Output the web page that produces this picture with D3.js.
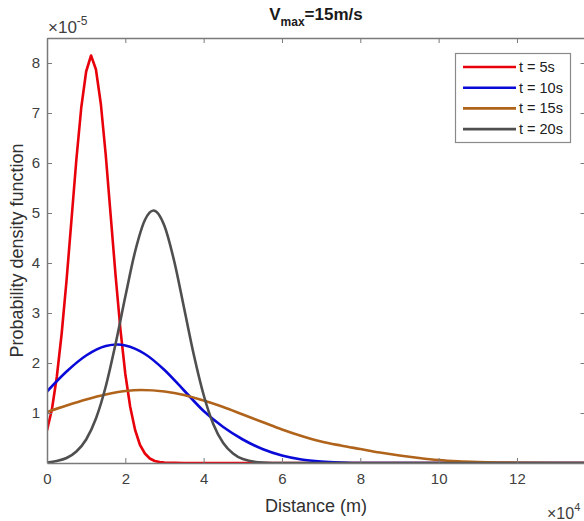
<!DOCTYPE html>
<html lang="en">
<head>
<meta charset="UTF-8">
<title>Vmax = 15 m/s</title>
<script src="https://d3js.org/d3.v7.min.js"></script>
<style>
    body { margin: 0; background: #fff; }
    svg { font-family: "Liberation Sans", Arial, sans-serif; }
    .tick-label { font-size: 15px; fill: #404040; }
    .axis-label { font-size: 18px; fill: #303030; }
    .legend-text { font-size: 14.5px; fill: #202020; }
</style>
</head>
<body>
<div id="chart"></div>
<script>
// distance in units of 1e4 m, density in units of 1e-5
const xTicks = [0, 2, 4, 6, 8, 10, 12];
const yTicks = [1, 2, 3, 4, 5, 6, 7, 8];
const seriesNames = ["t = 5s", "t = 10s", "t = 15s", "t = 20s"];
const seriesColors = ["#e8000b", "#0a0ad8", "#b0631a", "#4f4f4f"];

const dist5 = [0, 0.125, 0.25, 0.375, 0.5, 0.625, 0.75, 0.875, 1.0, 1.125, 1.25, 1.375, 1.5, 1.625,
    1.75, 1.875, 2.0, 2.125, 2.25, 2.375, 2.5, 2.625, 2.75, 2.875, 3.0, 3.5, 5, 8, 14];
const pdf5 = [0.65, 1.07, 1.72, 2.59, 3.66, 4.86, 6.07, 7.11, 7.83, 8.15, 7.87, 7.18, 6.16, 4.96,
    3.76, 2.67, 1.78, 1.12, 0.66, 0.36, 0.19, 0.09, 0.04, 0.02, 0.01, 0, 0, 0, 0];

const dist10 = [0, 0.5, 1.0, 1.5, 1.8, 2.0, 2.5, 3.0, 3.5, 4.0, 4.5, 5.0, 5.5, 6.0, 6.5, 7.0, 7.5, 8, 10, 14];
const pdf10 = [1.43, 1.83, 2.15, 2.34, 2.37, 2.35, 2.18, 1.86, 1.45, 1.04, 0.72, 0.47, 0.28, 0.15, 0.07, 0.03, 0.01, 0, 0, 0];

const dist15 = [0, 0.5, 1.0, 1.5, 2.0, 2.4, 3.0, 3.5, 4.0, 4.5, 5.0, 5.5, 6.0, 6.5, 7.0, 7.5, 8.0,
    8.5, 9.0, 9.5, 10.0, 10.5, 11, 11.5, 12, 13, 14];
const pdf15 = [1.02, 1.15, 1.27, 1.37, 1.44, 1.46, 1.43, 1.36, 1.25, 1.12, 0.97, 0.82, 0.67, 0.54, 0.43, 0.35, 0.28,
    0.21, 0.15, 0.10, 0.06, 0.035, 0.02, 0.01, 0.005, 0, 0];

const dist20 = [0, 0.25, 0.5, 0.75, 1.0, 1.25, 1.5, 1.75, 2.0, 2.25, 2.5, 2.72, 3.0, 3.25, 3.5, 3.75, 4.0,
    4.25, 4.5, 4.75, 5.0, 5.5, 6, 10, 14];
const pdf20 = [0.01, 0.04, 0.10, 0.23, 0.47, 0.89, 1.53, 2.38, 3.33, 4.23, 4.86, 5.05, 4.74, 4.03, 3.10, 2.16, 1.36,
    0.77, 0.40, 0.19, 0.08, 0.01, 0, 0, 0];

const seriesX = [dist5, dist10, dist15, dist20];
const seriesY = [pdf5, pdf10, pdf15, pdf20];

const W = 584, H = 521;
const plot = { left: 47, right: 585.5, top: 38, bottom: 463 };

const svg = d3.select("#chart").append("svg")
    .attr("width", W)
    .attr("height", H);

const x = d3.scaleLinear().domain([0, 13.75]).range([plot.left, plot.right]);
const y = d3.scaleLinear().domain([0, 8.5]).range([plot.bottom, plot.top]);

svg.append("defs").append("clipPath").attr("id", "clip")
    .append("rect")
    .attr("x", plot.left).attr("y", plot.top)
    .attr("width", plot.right - plot.left).attr("height", plot.bottom - plot.top);

// curves: t=5s is coarse (straight segments), the others are smooth
const curves = svg.append("g").attr("clip-path", "url(#clip)");
seriesX.forEach((xs, i) => {
    const pts = xs.map((v, j) => [v, seriesY[i][j]]);
    const line = d3.line()
        .x(d => x(d[0]))
        .y(d => y(d[1]))
        .curve(i === 0 ? d3.curveLinear : d3.curveMonotoneX);
    curves.append("path")
        .datum(pts)
        .attr("fill", "none")
        .attr("stroke", seriesColors[i])
        .attr("stroke-width", 2.6)
        .attr("stroke-linejoin", "round")
        .attr("d", line);
});

// axes (box with inward ticks)
const axisColor = "#7a7a7a";
const tickLen = 5;

svg.append("g")
    .attr("transform", `translate(0,${plot.bottom})`)
    .call(d3.axisBottom(x).tickValues(xTicks).tickSize(-tickLen).tickPadding(10).tickSizeOuter(0))
    .call(g => {
        g.select(".domain").attr("stroke", axisColor).attr("stroke-width", 1.5);
        g.selectAll(".tick line").attr("stroke", axisColor);
        g.selectAll(".tick text").attr("class", "tick-label").attr("font-size", null).attr("font-family", null);
    });

svg.append("g")
    .attr("transform", `translate(0,${plot.top})`)
    .call(d3.axisTop(x).tickValues(xTicks).tickSize(-tickLen).tickFormat("").tickSizeOuter(0))
    .call(g => {
        g.select(".domain").attr("stroke", axisColor).attr("stroke-width", 1.5);
        g.selectAll(".tick line").attr("stroke", axisColor);
    });

svg.append("g")
    .attr("transform", `translate(${plot.left},0)`)
    .call(d3.axisLeft(y).tickValues(yTicks).tickSize(-tickLen).tickPadding(7).tickSizeOuter(0))
    .call(g => {
        g.select(".domain").attr("stroke", axisColor).attr("stroke-width", 1.5);
        g.selectAll(".tick line").attr("stroke", axisColor);
        g.selectAll(".tick text").attr("class", "tick-label").attr("font-size", null).attr("font-family", null);
    });

svg.append("g")
    .attr("transform", `translate(${plot.right},0)`)
    .call(d3.axisRight(y).tickValues(yTicks).tickSize(-tickLen).tickFormat("").tickSizeOuter(0))
    .call(g => {
        g.select(".domain").attr("stroke", axisColor).attr("stroke-width", 1.5);
        g.selectAll(".tick line").attr("stroke", axisColor);
    });

// exponent labels
const expTop = svg.append("text").attr("class", "tick-label").style("font-size", "17px")
    .attr("x", plot.left + 1).attr("y", 33);
expTop.append("tspan").text("\u00d710");
expTop.append("tspan").attr("dy", -8).style("font-size", "12px").text("-5");

const expBottom = svg.append("text").attr("class", "tick-label").style("font-size", "16px")
    .attr("x", 547).attr("y", 519);
expBottom.append("tspan").text("\u00d710");
expBottom.append("tspan").attr("dy", -8).style("font-size", "11px").text("4");

// axis labels
svg.append("text")
    .attr("class", "axis-label")
    .attr("text-anchor", "middle")
    .attr("x", 316)
    .attr("y", 512)
    .text("Distance (m)");

svg.append("text")
    .attr("class", "axis-label")
    .attr("text-anchor", "middle")
    .attr("transform", `translate(23,${(plot.top + plot.bottom) / 2}) rotate(-90)`)
    .text("Probability density function");

// title
const title = svg.append("text")
    .attr("text-anchor", "middle")
    .attr("x", 316)
    .attr("y", 20)
    .attr("font-weight", "bold")
    .attr("font-size", 17)
    .attr("fill", "#1a1a1a");
title.append("tspan").text("V");
title.append("tspan").attr("dy", 6).attr("font-size", 12).text("max");
title.append("tspan").attr("dy", -6).text("=15m/s");

// legend
const legend = svg.append("g");
legend.append("rect")
    .attr("x", 455.5).attr("y", 53.5)
    .attr("width", 115).attr("height", 89)
    .attr("fill", "#fff")
    .attr("stroke", "#8a8a8a")
    .attr("stroke-width", 1.2);

seriesNames.forEach((name, i) => {
    const ly = 67 + i * 20.7;
    legend.append("line")
        .attr("x1", 463).attr("x2", 516)
        .attr("y1", ly).attr("y2", ly)
        .attr("stroke", seriesColors[i])
        .attr("stroke-width", 2.6);
    legend.append("text")
        .attr("class", "legend-text")
        .attr("x", 519)
        .attr("y", ly + 5)
        .text(name);
});
</script>
</body>
</html>
